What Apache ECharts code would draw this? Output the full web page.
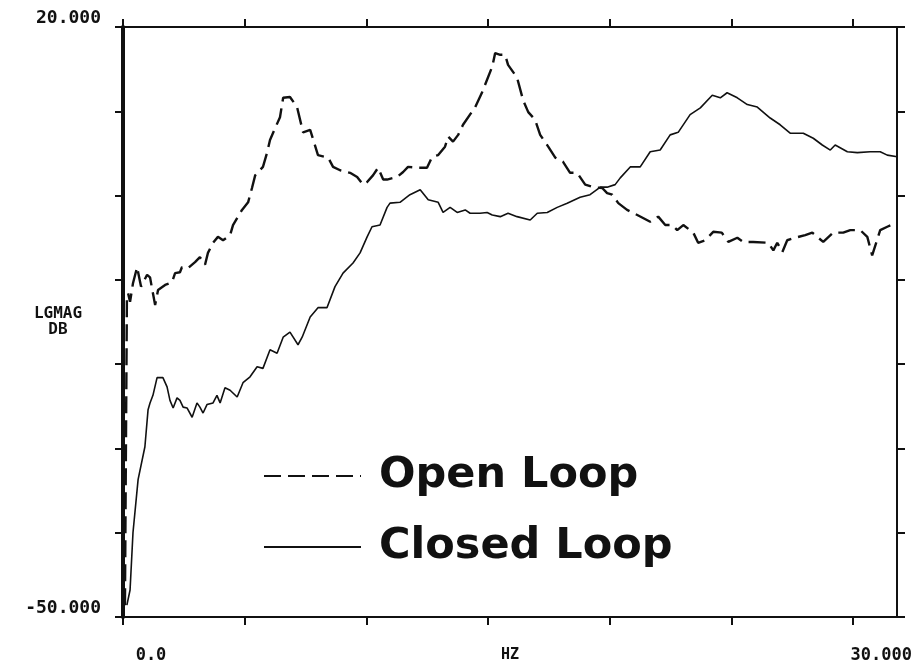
<!DOCTYPE html>
<html>
<head>
<meta charset="utf-8">
<title>LGMAG DB</title>
<script src="https://cdn.jsdelivr.net/npm/echarts@6/dist/echarts.min.js"></script>
<style>
  html, body { margin: 0; padding: 0; background: #fff; }
  #main { width: 917px; height: 671px; }
</style>
</head>
<body>
<div id="main"></div>
<script>
// frequency (Hz) and magnitude (dB)
const openFreq = [0.08, 0.12, 0.16, 0.21, 0.29, 0.41, 0.58, 0.74, 0.99, 1.11, 1.23, 1.32, 1.44, 1.73, 2.01, 2.14, 2.34, 2.42, 2.67, 2.96,
  3.16, 3.37, 3.49, 3.70, 3.90, 4.11, 4.40, 4.52, 4.89, 5.14, 5.30, 5.43, 5.75, 5.92, 6.04, 6.25, 6.45, 6.58, 6.86, 7.15,
  7.40, 7.69, 8.01, 8.43, 8.63, 8.92, 9.33, 9.62, 9.86, 10.03, 10.27, 10.48, 10.69, 10.85, 11.26, 11.51, 11.71, 12.12, 12.49, 12.70,
  12.95, 13.23, 13.36, 13.56, 13.77, 13.97, 14.47, 14.76, 15.17, 15.29, 15.50, 15.70, 15.82, 16.19, 16.44, 16.65, 16.93, 17.14, 17.47, 17.76,
  18.08, 18.37, 18.66, 18.99, 19.32, 19.69, 19.89, 20.10, 20.35, 20.71, 21.13, 21.66, 21.99, 22.28, 22.56, 22.77, 23.02, 23.43, 23.63, 23.92,
  24.25, 24.60, 24.87, 25.24, 25.48, 25.89, 26.51, 26.72, 26.88, 27.09, 27.29, 27.62, 28.03, 28.32, 28.77, 29.18, 29.59, 29.88, 30.29, 30.58,
  30.78, 31.11, 31.40, 31.73];
const openDb = [-48.6, -30.2, -12.4, -11.6, -12.6, -10.4, -8.5, -10.8, -9.4, -9.7, -11.6, -13.0, -11.2, -10.6, -10.3, -9.2, -9.1, -8.5, -8.6, -7.9,
  -7.3, -8.2, -6.8, -5.6, -4.9, -5.3, -4.7, -3.5, -1.7, -0.8, 0.9, 2.4, 3.4, 5.1, 6.6, 8.0, 9.3, 11.6, 11.7, 10.5,
  7.5, 7.8, 4.8, 4.5, 3.4, 3.0, 2.7, 2.2, 1.3, 1.6, 2.4, 3.3, 1.9, 1.9, 2.2, 2.8, 3.4, 3.3, 3.3, 4.6,
  4.8, 5.8, 7.0, 6.4, 7.2, 8.4, 10.5, 12.3, 15.3, 16.9, 16.7, 16.7, 15.5, 14.0, 11.3, 9.9, 9.0, 7.2, 5.8, 4.5,
  4.0, 2.7, 2.7, 1.3, 1.0, 0.9, 0.3, 0.1, -0.9, -1.7, -2.3, -3.1, -2.5, -3.5, -3.5, -4.1, -3.5, -4.4, -5.6, -5.3,
  -4.3, -4.4, -5.5, -5.0, -5.5, -5.5, -5.6, -6.5, -5.6, -6.7, -5.3, -5.0, -4.7, -4.4, -5.5, -4.4, -4.4, -4.1, -4.1, -4.9,
  -7.1, -4.1, -3.7, -3.3];
const closedFreq = [0.16, 0.29, 0.41, 0.62, 0.90, 1.03, 1.11, 1.23, 1.40, 1.64, 1.81, 1.93, 2.06, 2.22, 2.34, 2.47, 2.63, 2.84, 3.04, 3.16,
  3.29, 3.45, 3.70, 3.86, 3.99, 4.19, 4.40, 4.69, 4.93, 5.22, 5.51, 5.75, 6.04, 6.33, 6.58, 6.86, 7.19, 7.36, 7.69, 8.01,
  8.38, 8.71, 9.04, 9.45, 9.74, 10.03, 10.23, 10.56, 10.85, 10.97, 11.38, 11.79, 12.21, 12.54, 12.95, 13.15, 13.44, 13.73, 14.06, 14.26,
  14.67, 14.96, 15.17, 15.50, 15.82, 16.19, 16.73, 17.02, 17.43, 17.84, 18.25, 18.78, 19.19, 19.61, 19.89, 20.22, 20.43, 20.84, 21.25, 21.66,
  22.07, 22.48, 22.81, 23.30, 23.72, 24.21, 24.54, 24.82, 25.24, 25.65, 26.06, 26.59, 27.00, 27.41, 27.95, 28.36, 28.73, 29.06, 29.26, 29.76,
  30.17, 30.70, 31.11, 31.40, 31.81];
const closedDb = [-48.6, -46.8, -40.0, -33.7, -29.8, -25.4, -24.6, -23.7, -21.6, -21.6, -22.7, -24.3, -25.2, -24.0, -24.3, -25.1, -25.2, -26.3, -24.6, -25.1,
  -25.8, -24.8, -24.6, -23.7, -24.6, -22.8, -23.1, -23.9, -22.2, -21.5, -20.3, -20.5, -18.3, -18.7, -16.8, -16.2, -17.7, -16.8, -14.4, -13.3,
  -13.3, -10.8, -9.2, -8.0, -6.8, -4.9, -3.7, -3.5, -1.4, -0.9, -0.8, 0.1, 0.7, -0.5, -0.8, -2.0, -1.4, -2.0, -1.7, -2.1,
  -2.1, -2.0, -2.3, -2.5, -2.1, -2.5, -2.9, -2.1, -2.0, -1.4, -0.9, -0.2, 0.1, 1.0, 1.0, 1.3, 2.1, 3.4, 3.4, 5.2,
  5.4, 7.2, 7.5, 9.6, 10.4, 11.9, 11.6, 12.2, 11.6, 10.8, 10.5, 9.2, 8.4, 7.4, 7.4, 6.8, 6.0, 5.4, 6.0, 5.2,
  5.1, 5.2, 5.2, 4.8, 4.6];

const xTicks = [0, 5, 10, 15, 20, 25, 30];
const xLabels = { 0: "0.0", 30: "30.000" };
const yLabels = { 20: "20.000", "-50": "-50.000" };
const seriesNames = ["Open Loop", "Closed Loop"];

const ink = "#111";
const monoFont = "DejaVu Sans Mono";

function pairs(xs, ys) {
  return xs.map((x, i) => [x, ys[i]]);
}

const xBase = {
  type: "value",
  min: 0,
  max: 31.8,
  splitLine: { show: false },
  axisLine: { show: true, onZero: false, lineStyle: { color: ink, width: 2 } },
  axisTick: { show: true, inside: false, length: 8, customValues: xTicks, lineStyle: { color: ink, width: 2 } },
};
const yBase = {
  type: "value",
  min: -50,
  max: 20,
  interval: 10,
  splitLine: { show: false },
  axisLine: { show: true, onZero: false, lineStyle: { color: ink, width: 2 } },
  axisTick: { show: true, inside: false, length: 8, lineStyle: { color: ink, width: 2 } },
};

const option = {
  animation: false,
  backgroundColor: "#fff",
  grid: { left: 123, right: 20, top: 27, bottom: 54, containLabel: false, outerBoundsMode: "none" },
  legend: {
    orient: "vertical",
    left: 258,
    top: 446,
    itemWidth: 97,
    itemHeight: 14,
    itemGap: 21,
    data: seriesNames,
    itemStyle: { opacity: 0 },
    textStyle: {
      fontFamily: "DejaVu Sans",
      fontWeight: "bold",
      fontSize: 43,
      lineHeight: 50,
      color: ink,
      padding: [0, 0, 0, 13],
    },
  },
  xAxis: [
    Object.assign({}, xBase, {
      position: "bottom",
      name: "HZ",
      nameLocation: "middle",
      nameGap: 31,
      nameMoveOverlap: false,
      nameTextStyle: { fontFamily: monoFont, fontWeight: "bold", fontSize: 15, color: ink },
      axisLabel: {
        show: true,
        customValues: [0, 30],
        formatter: (v) => xLabels[v] || "",
        margin: 30,
        padding: [0, 0, 0, 56],
        fontFamily: monoFont,
        fontWeight: "bold",
        fontSize: 17,
        color: ink,
      },
    }),
    Object.assign({}, xBase, { position: "top", axisLabel: { show: false } }),
  ],
  yAxis: [
    Object.assign({}, yBase, {
      position: "left",
      axisLine: { show: true, onZero: false, lineStyle: { color: ink, width: 4 } },
      name: "LGMAG\nDB",
      nameLocation: "middle",
      nameRotate: 0,
      nameGap: 65,
      nameMoveOverlap: false,
      nameTextStyle: { fontFamily: monoFont, fontWeight: "bold", fontSize: 16, lineHeight: 16, color: ink, align: "center" },
      axisLabel: {
        show: true,
        formatter: (v) => yLabels[v] || "",
        margin: 22,
        verticalAlign: "bottom",
        fontFamily: monoFont,
        fontWeight: "bold",
        fontSize: 18,
        color: ink,
      },
    }),
    Object.assign({}, yBase, { position: "right", axisLabel: { show: false } }),
  ],
  series: [
    {
      name: seriesNames[0],
      type: "line",
      data: pairs(openFreq, openDb),
      symbol: "none",
      color: ink,
      lineStyle: { color: ink, width: 2.4, type: [17, 7] },
    },
    {
      name: seriesNames[1],
      type: "line",
      data: pairs(closedFreq, closedDb),
      symbol: "none",
      color: ink,
      lineStyle: { color: ink, width: 1.6 },
    },
  ],
};

const myChart = echarts.init(document.getElementById("main"));
myChart.setOption(option);
</script>
</body>
</html>
